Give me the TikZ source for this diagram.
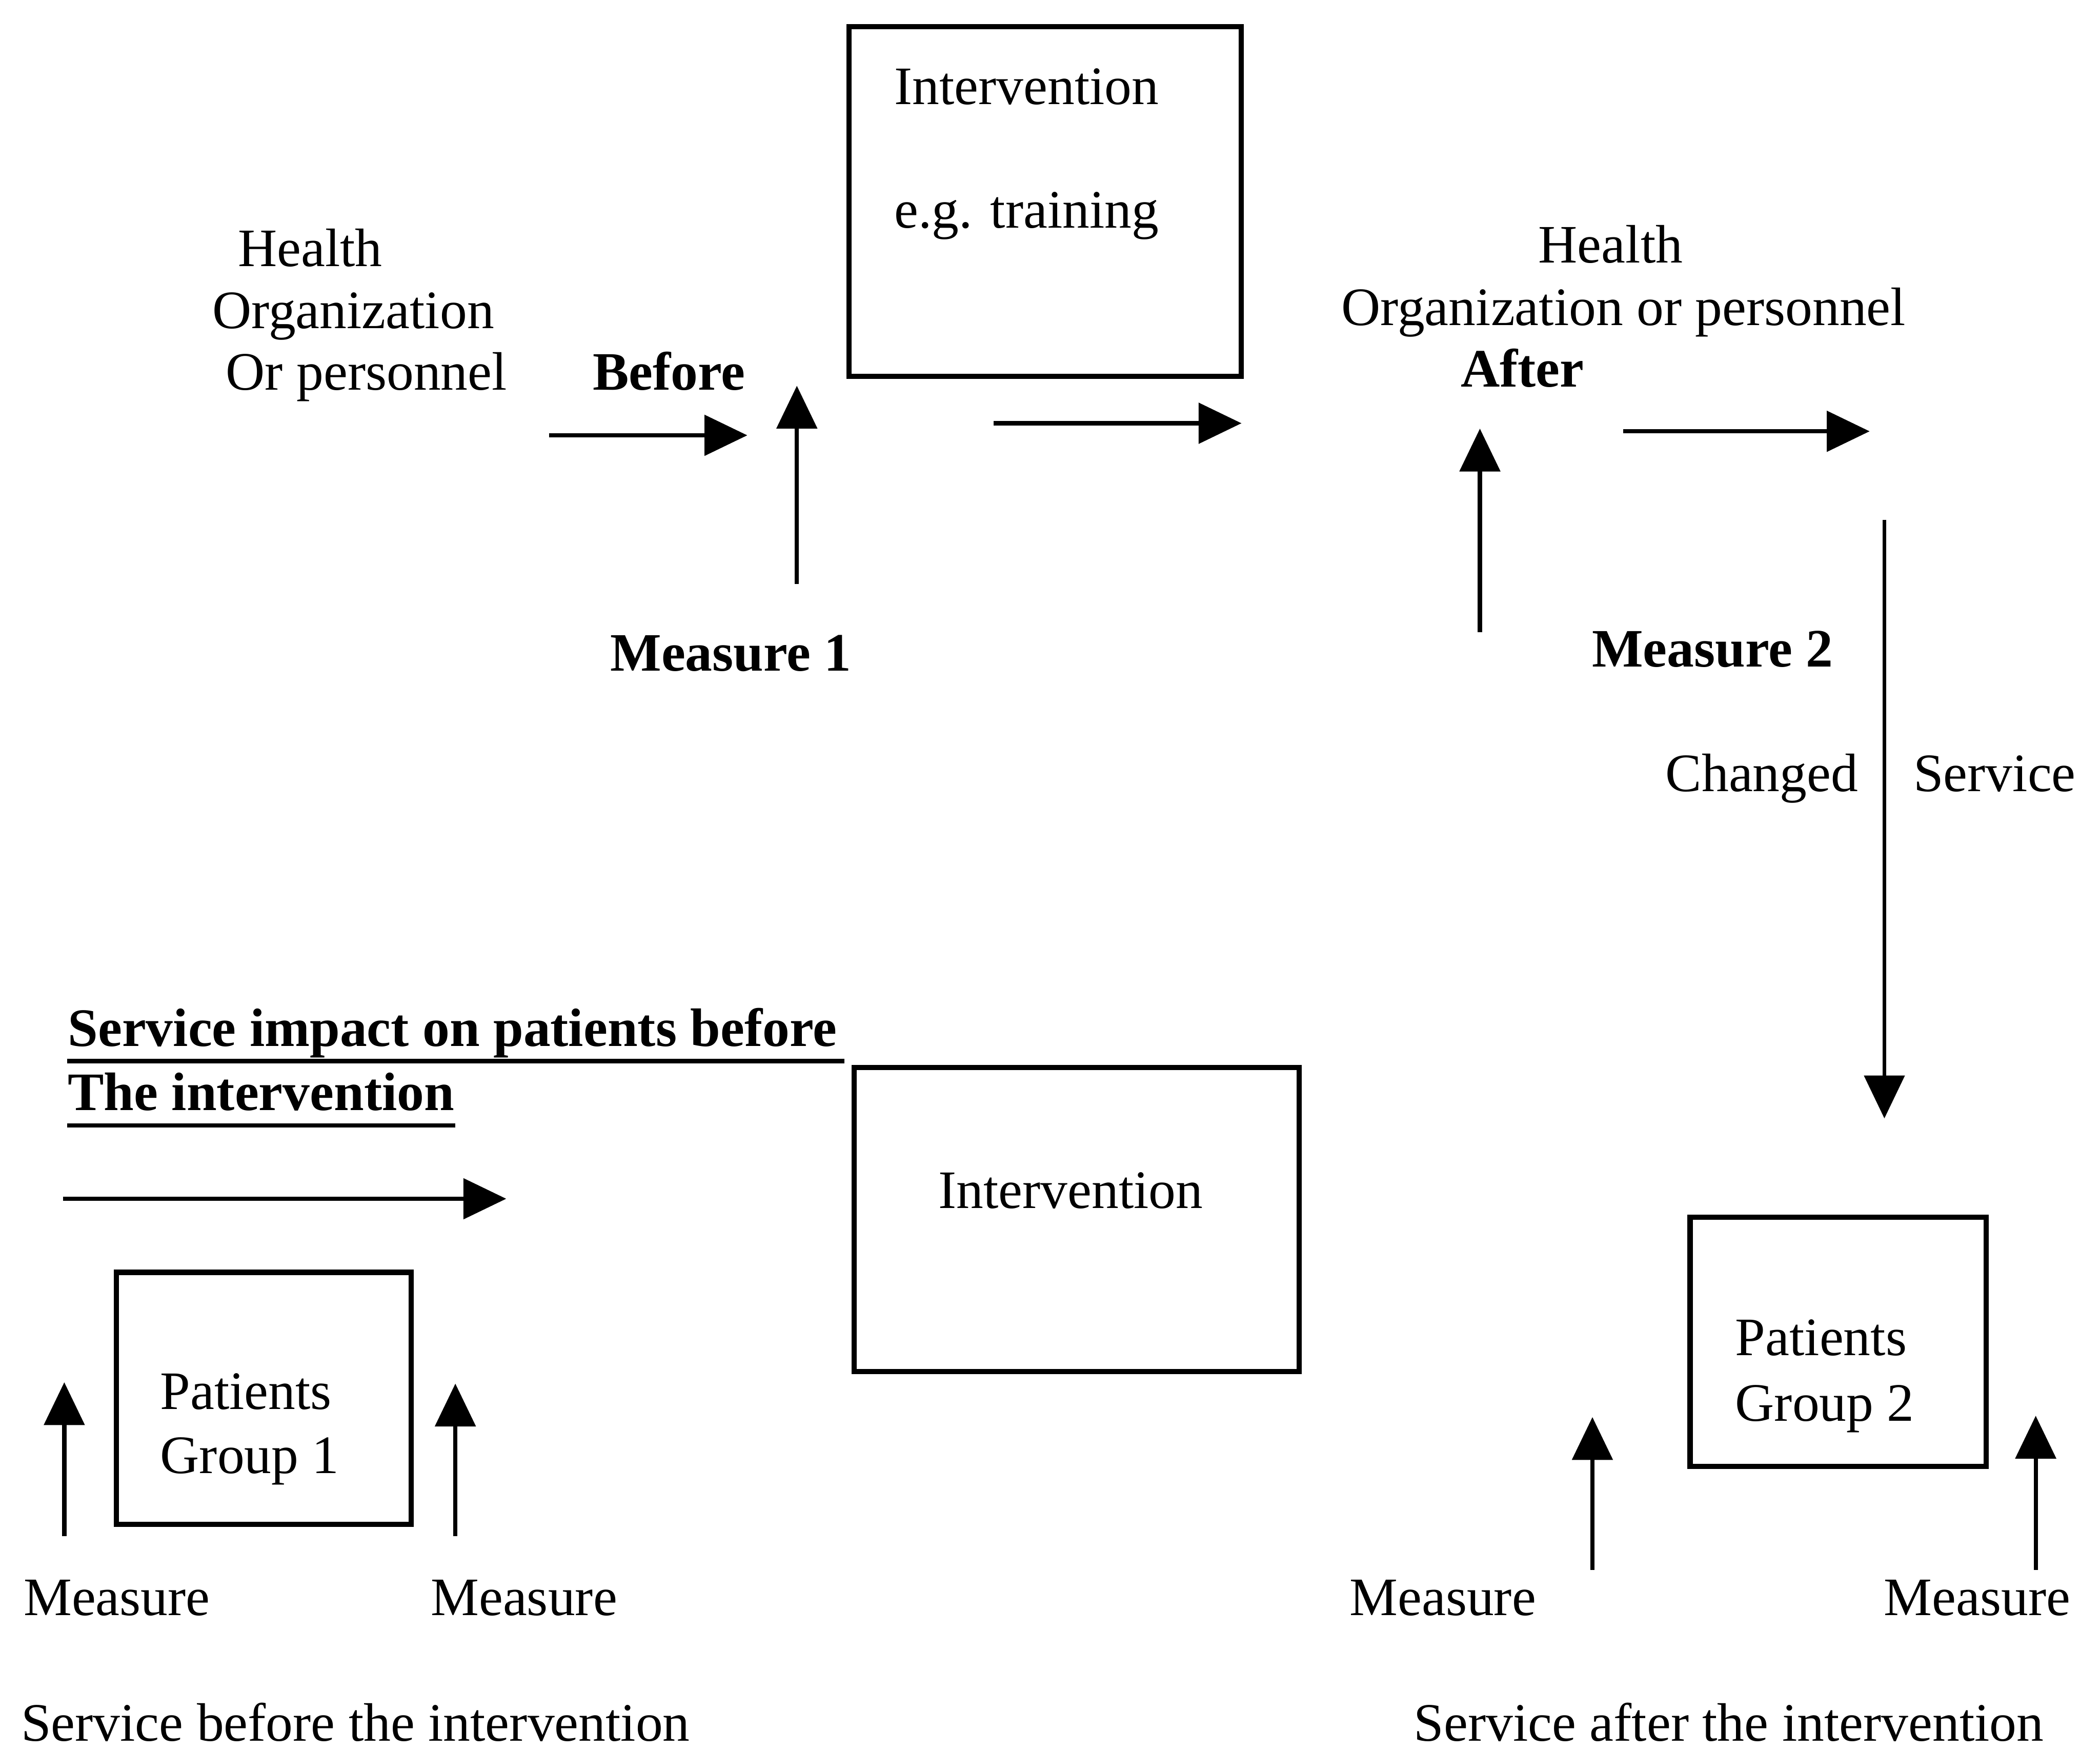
\documentclass[tikz,border=0pt]{standalone}
\usepackage{fontspec}
\setmainfont{Liberation Serif}
\usetikzlibrary{arrows.meta}
\begin{document}
\begin{tikzpicture}[x=0.1mm,y=-0.1mm,
  lbl/.style={anchor=base west,inner sep=0pt,font=\fontsize{11.5}{13.8}\selectfont},
  blbl/.style={lbl,font=\fontsize{11.5}{13.8}\selectfont\bfseries},
  box/.style={draw,line width=1.1pt,anchor=north west,inner sep=0pt},
  flow/.style={line width=0.9pt,-{Triangle[length=3.2mm,width=3mm]}},
  uline/.style={line width=0.9pt},
]
\useasboundingbox (0,0) rectangle (1568,1308);

% boxes
\node[box,minimum width=29.3mm,minimum height=26.1mm] (ibox1) at (632,18) {};
\node[box,minimum width=33.2mm,minimum height=22.7mm] (ibox2) at (636,795) {};
\node[box,minimum width=22.0mm,minimum height=18.8mm] (pg1) at (85,948) {};
\node[box,minimum width=22.1mm,minimum height=18.6mm] (pg2) at (1260,907) {};

% upper row texts
\node[lbl] (iv1) at (667,78) {Intervention};
\node[lbl] (eg) at (667,170) {e.g. training};
\node[lbl] (h1) at (177,199) {Health};
\node[lbl] (o1) at (158,245) {Organization};
\node[lbl] (p1) at (168,291) {Or personnel};
\node[blbl] (bef) at (442,291) {Before};
\node[blbl] (m1) at (455,501) {Measure 1};
\node[lbl] (h2) at (1148,196) {Health};
\node[lbl] (o2) at (1001,243) {Organization or personnel};
\node[blbl] (aft) at (1090,289) {After};
\node[blbl] (m2) at (1188,498) {Measure 2};
\node[lbl] (chg) at (1243,591) {Changed};
\node[lbl] (srv) at (1428,591) {Service};

% lower row texts
\node[blbl] (imp1) at (50,781) {Service impact on patients before};
\node[blbl] (imp2) at (50,829) {The intervention};
\draw[uline] ([yshift=-3.2pt]imp1.base west) -- ([yshift=-3.2pt,xshift=0.5mm]imp1.base east);
\draw[uline] ([yshift=-3.2pt]imp2.base west) -- ([yshift=-3.2pt]imp2.base east);
\node[lbl] (iv2) at (700,902) {Intervention};
\node[lbl] (pa1) at (119,1052) {Patients};
\node[lbl] (gr1) at (119,1100) {Group 1};
\node[lbl] (pa2) at (1295,1012) {Patients};
\node[lbl] (gr2) at (1295,1061) {Group 2};
\node[lbl] (ma) at (17,1206) {Measure};
\node[lbl] (mb) at (321,1206) {Measure};
\node[lbl] (mc) at (1007,1206) {Measure};
\node[lbl] (md) at (1406,1206) {Measure};
\node[lbl] (sbef) at (15,1300) {Service before the intervention};
\node[lbl] (saft) at (1055,1300) {Service after the intervention};

% arrow end points
\coordinate (a1s) at (410,325);  \coordinate (a1e) at (558,325);
\coordinate (a2s) at (595,436);  \coordinate (a2e) at (595,288);
\coordinate (a3s) at (742,316);  \coordinate (a3e) at (927,316);
\coordinate (a4s) at (1105,472); \coordinate (a4e) at (1105,320);
\coordinate (a5s) at (1212,322); \coordinate (a5e) at (1396,322);
\coordinate (a6s) at (1407,388); \coordinate (a6e) at (1407,835);
\coordinate (a7s) at (47,895);   \coordinate (a7e) at (378,895);
\coordinate (a8s) at (48,1147);  \coordinate (a8e) at (48,1032);
\coordinate (a9s) at (340,1147); \coordinate (a9e) at (340,1033);
\coordinate (a10s) at (1189,1172); \coordinate (a10e) at (1189,1058);
\coordinate (a11s) at (1520,1172); \coordinate (a11e) at (1520,1057);

% arrows
\draw[flow] (a1s) -- (a1e);
\draw[flow] (a2s) -- (a2e);
\draw[flow] (a3s) -- (a3e);
\draw[flow] (a4s) -- (a4e);
\draw[flow] (a5s) -- (a5e);
\draw[flow,line width=0.75pt] (a6s) -- (a6e);
\draw[flow] (a7s) -- (a7e);
\draw[flow] (a8s) -- (a8e);
\draw[flow] (a9s) -- (a9e);
\draw[flow] (a10s) -- (a10e);
\draw[flow] (a11s) -- (a11e);
\end{tikzpicture}
\end{document}
